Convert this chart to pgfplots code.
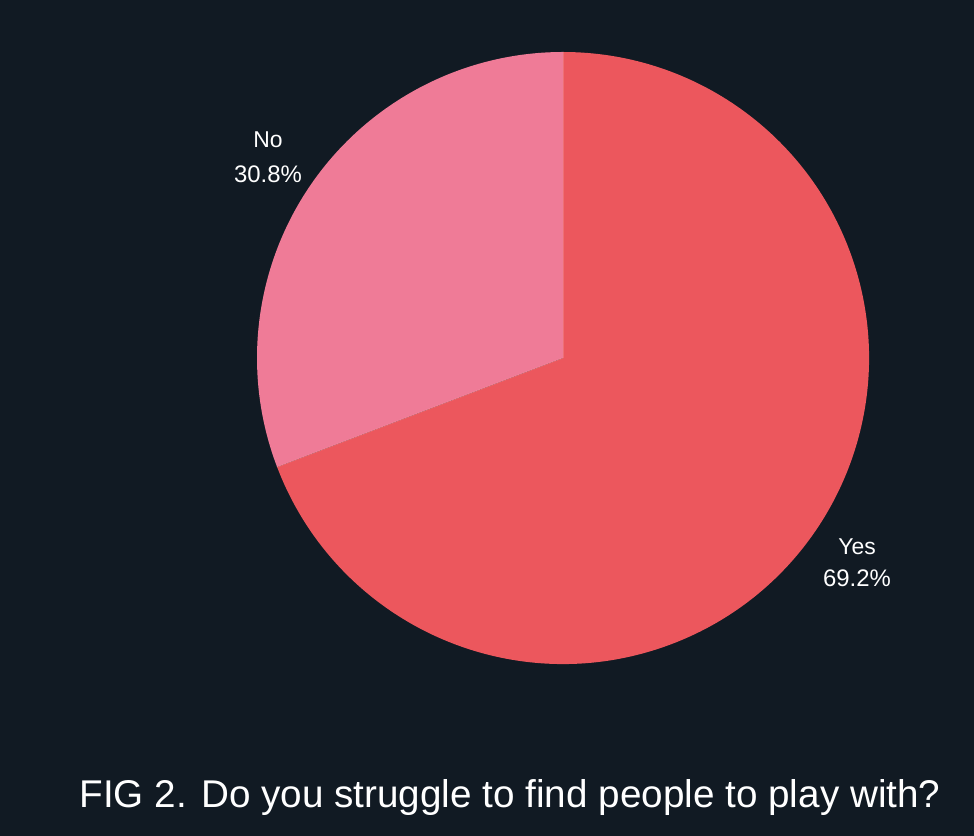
\documentclass[border=0pt]{standalone}
\usepackage{pgfplots}
\pgfplotsset{compat=1.18}
\usepackage{fontspec}
\setmainfont{Liberation Sans}
\definecolor{bg}{HTML}{111A23}
\definecolor{yescol}{HTML}{EC575D}
\definecolor{nocol}{HTML}{EF7B97}
% data (percent)
\def\yesval{69.2}
\def\noval{30.8}
\begin{document}
\begin{tikzpicture}
\useasboundingbox (0,0) rectangle (974bp,836bp);
\fill[bg] (0,0) rectangle (974bp,836bp);
\begin{axis}[
  at={(0,0)}, anchor=south west,
  scale only axis, width=974bp, height=836bp,
  xmin=0, xmax=974, ymin=0, ymax=836,
  hide axis, clip=false,
]
\pgfmathsetmacro{\noend}{90+\noval*3.6}
\pgfmathsetmacro{\yesend}{\noend+\yesval*3.6}
% No slice
\fill[nocol] (axis cs:563,478) -- ++(90:306bp) arc[start angle=90, end angle=\noend, radius=306bp] -- cycle;
% Yes slice
\fill[yescol] (axis cs:563,478) -- ++(\noend:306bp) arc[start angle=\noend, end angle=\yesend, radius=306bp] -- cycle;
\draw[white, opacity=0.15, line width=0.8bp] (axis cs:563,478) -- ++(90:306bp);
\draw[white, opacity=0.15, line width=0.8bp] (axis cs:563,478) -- ++(\noend:306bp);
% labels
\node[white, anchor=base, font=\fontsize{23}{28}\selectfont] at (axis cs:268,688) {No};
\node[white, anchor=base, font=\fontsize{24}{28}\selectfont] at (axis cs:268,653) {30.8\%};
\node[white, anchor=base, font=\fontsize{23}{28}\selectfont] at (axis cs:857,281) {Yes};
\node[white, anchor=base, font=\fontsize{24}{28}\selectfont] at (axis cs:857,249) {69.2\%};
% title
\node[white, anchor=base, font=\fontsize{38.8}{44}\selectfont, inner sep=0pt] at (axis cs:510,28) {FIG 2. Do you struggle to find people to play with?};
\end{axis}
\end{tikzpicture}
\end{document}
